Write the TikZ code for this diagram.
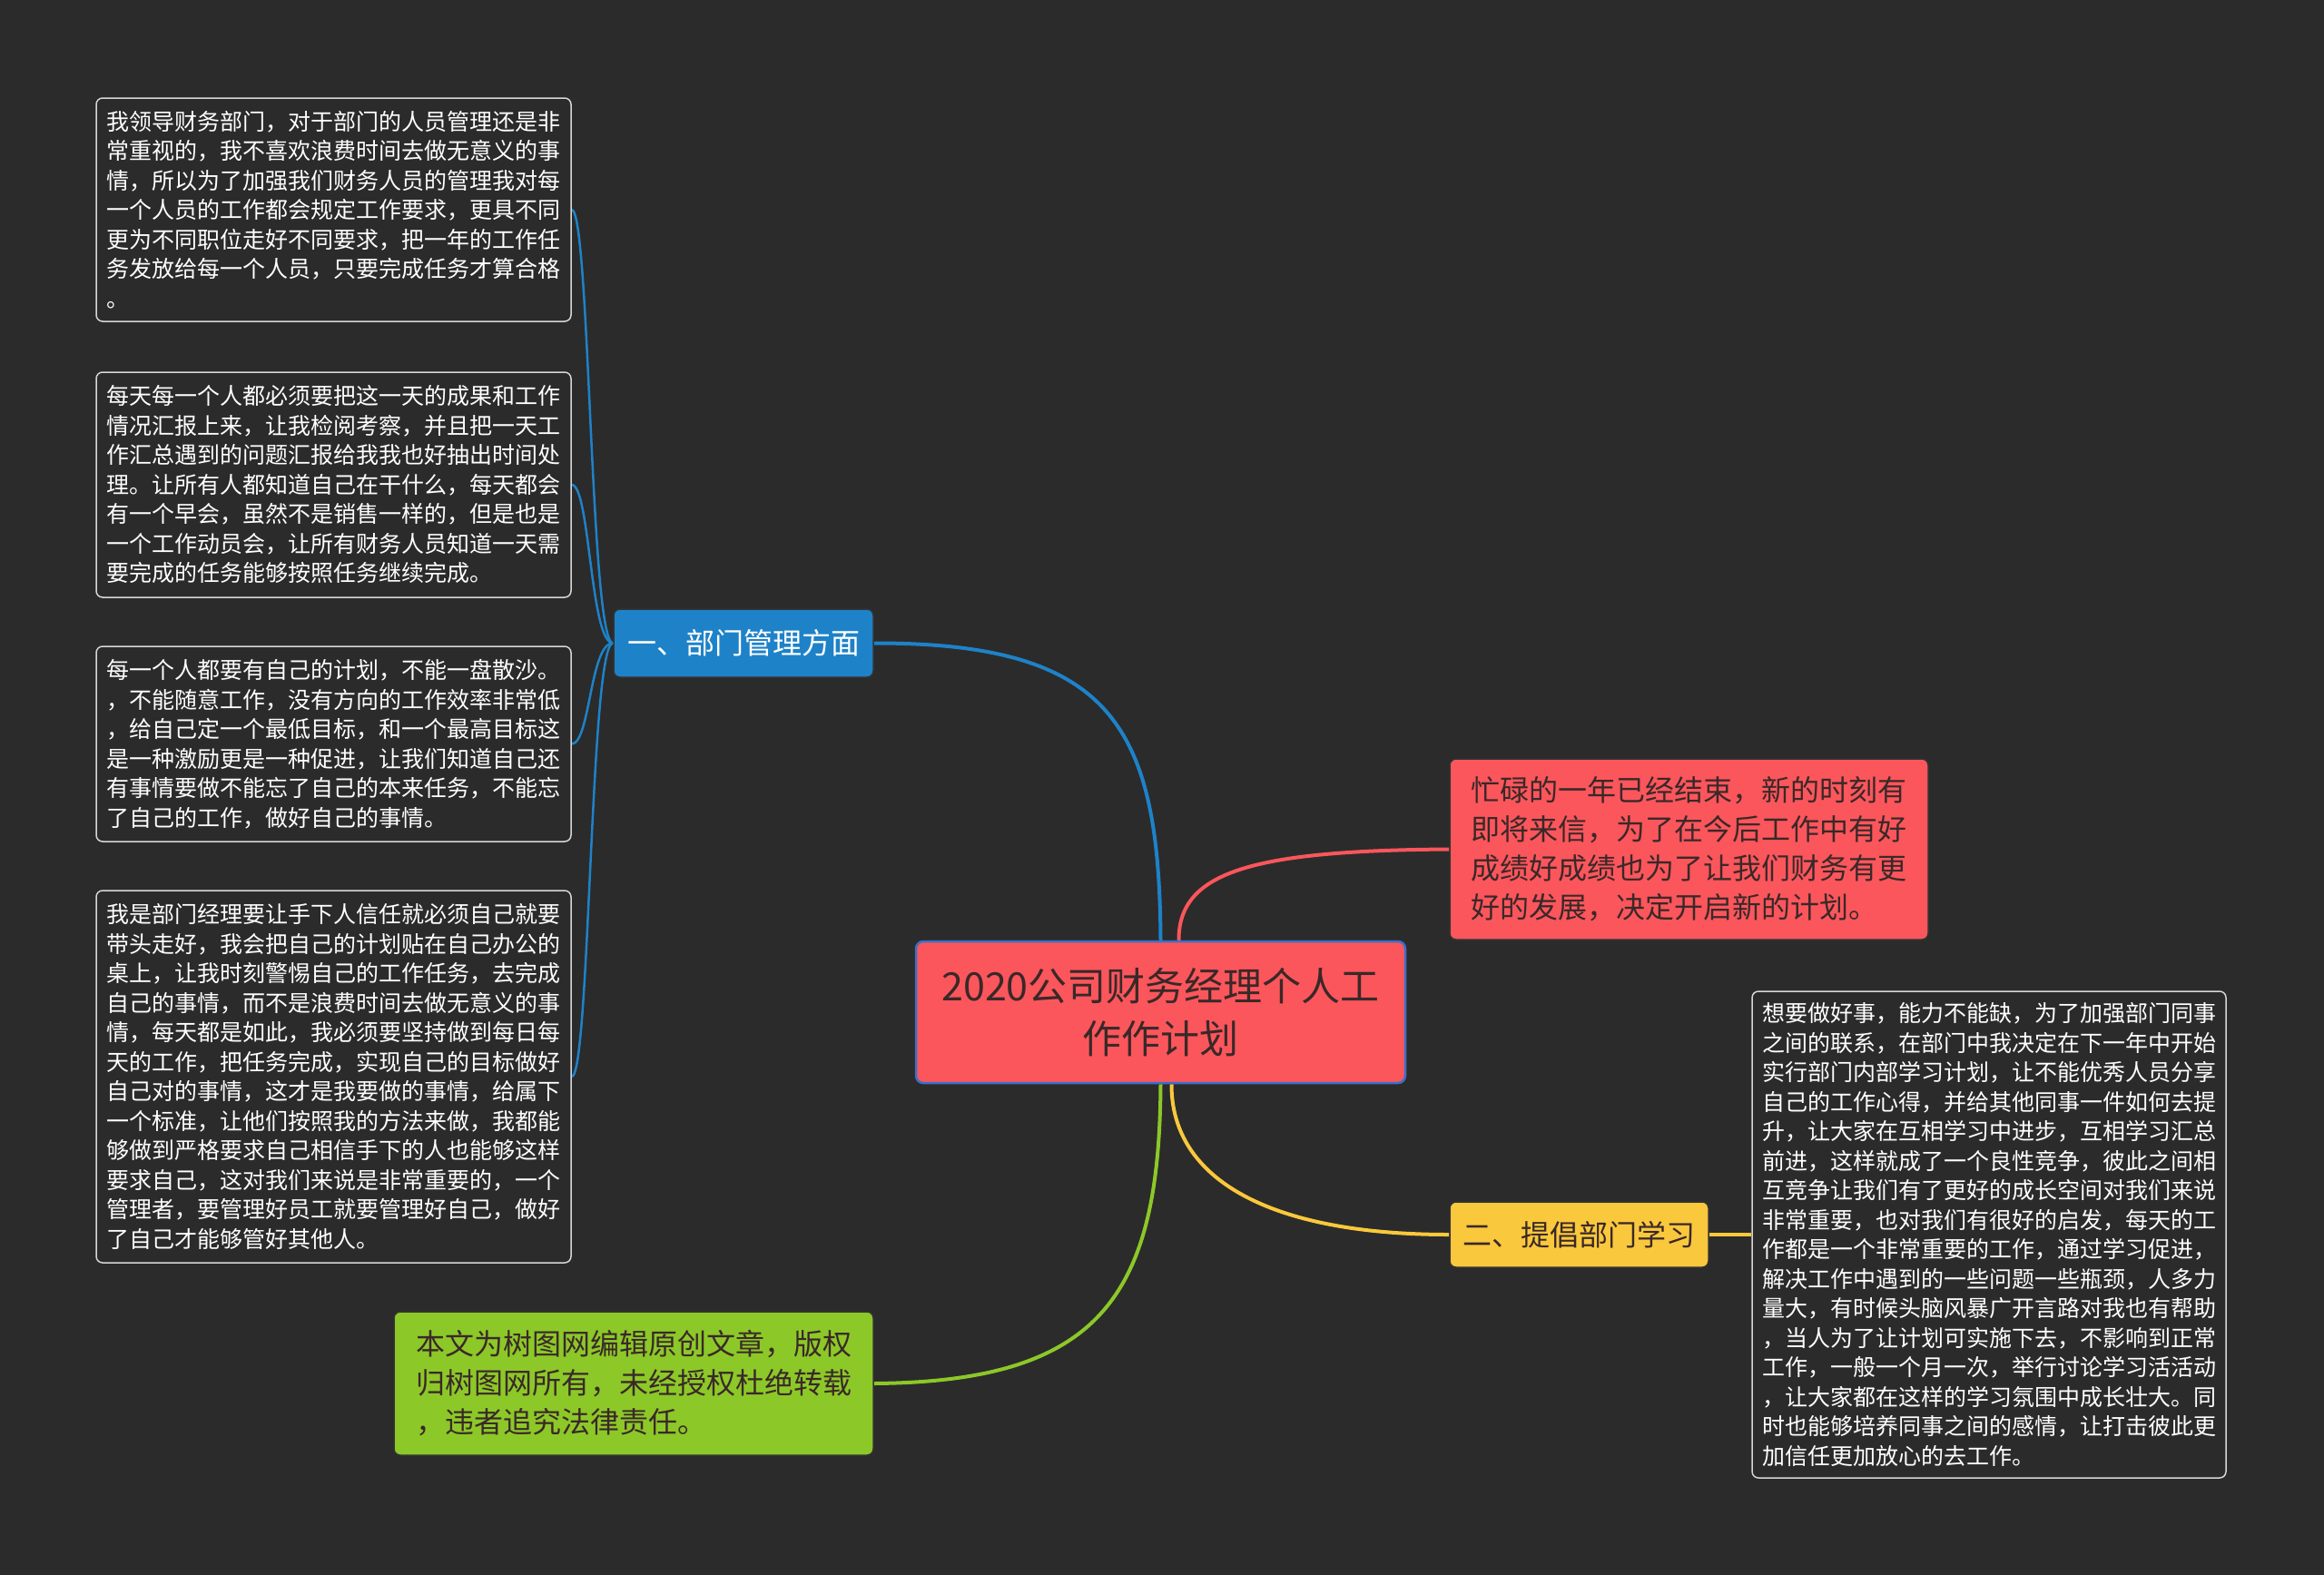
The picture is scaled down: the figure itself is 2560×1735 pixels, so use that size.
\documentclass[tikz,border=0pt]{standalone}
\usepackage{fontspec}
\setmainfont{Noto Sans CJK SC}
\usetikzlibrary{backgrounds}
\definecolor{bgdark}{RGB}{43,43,43}
\definecolor{leafline}{RGB}{215,215,215}
\definecolor{inkdark}{RGB}{58,40,40}
\definecolor{mapblue}{RGB}{30,130,200}
\definecolor{mapred}{RGB}{250,86,92}
\definecolor{mapyellow}{RGB}{250,200,60}
\definecolor{mapgreen}{RGB}{140,200,40}
\definecolor{rootline}{RGB}{60,110,200}

\begin{document}
\begin{tikzpicture}[x=1pt,y=1pt,yscale=-1,
  leaf/.style={draw=leafline,line width=1.5pt,fill=bgdark,rounded corners=7pt,text=white,
    font=\fontsize{25}{32.5}\selectfont,align=left,inner sep=0pt,minimum width=523pt},
  topic/.style={draw=black!80,line width=1.5pt,rounded corners=7pt,align=left,inner sep=0pt,
    font=\fontsize{32}{43}\selectfont},
  wire/.style={line width=4pt},
  twig/.style={line width=2.5pt,draw=mapblue}]
%uncomment if require: \path (0,1735); %set diagram left start at 0, and has height of 1735
\useasboundingbox (0,0) rectangle (2560,1735);
\begin{pgfonlayer}{background}
\fill[bgdark] (0,0) rectangle (2560,1735);
\end{pgfonlayer}

%Shape: Root
\node[draw=rootline,line width=2.5pt,fill=mapred,rounded corners=8pt,text=inkdark,align=center,
  inner sep=0pt,minimum width=539pt,minimum height=156pt,font=\fontsize{43}{58}\selectfont]
  (root) at (1278.5,1115) {2020公司财务经理个人工\\作作计划};

%Shape: Topics
\node[topic,fill=mapblue,text=white,minimum width=286pt,minimum height=75pt] (mgmt) at (819,708.5) {一、部门管理方面};
\node[topic,fill=mapred,text=inkdark,minimum width=527pt,minimum height=199pt] (intro) at (1860.5,935.5) {忙碌的一年已经结束，新的时刻有\\即将来信，为了在今后工作中有好\\成绩好成绩也为了让我们财务有更\\好的发展，决定开启新的计划。};
\node[topic,fill=mapyellow,text=inkdark,minimum width=285pt,minimum height=72pt] (study) at (1739.5,1360) {二、提倡部门学习};
\node[topic,fill=mapgreen,text=inkdark,minimum width=528pt,minimum height=158pt] (note) at (698,1524) {本文为树图网编辑原创文章，版权\\归树图网所有，未经授权杜绝转载\\，违者追究法律责任。};

% Text Node
\node[leaf,minimum height=246pt] (mgmtA) at (367.5,231) {我领导财务部门，对于部门的人员管理还是非\\常重视的，我不喜欢浪费时间去做无意义的事\\情，所以为了加强我们财务人员的管理我对每\\一个人员的工作都会规定工作要求，更具不同\\更为不同职位走好不同要求，把一年的工作任\\务发放给每一个人员，只要完成任务才算合格\\。};
% Text Node
\node[leaf,minimum height=248pt] (mgmtB) at (367.5,534) {每天每一个人都必须要把这一天的成果和工作\\情况汇报上来，让我检阅考察，并且把一天工\\作汇总遇到的问题汇报给我我也好抽出时间处\\理。让所有人都知道自己在干什么，每天都会\\有一个早会，虽然不是销售一样的，但是也是\\一个工作动员会，让所有财务人员知道一天需\\要完成的任务能够按照任务继续完成。};
% Text Node
\node[leaf,minimum height=215pt] (mgmtC) at (367.5,819.5) {每一个人都要有自己的计划，不能一盘散沙。\\，不能随意工作，没有方向的工作效率非常低\\，给自己定一个最低目标，和一个最高目标这\\是一种激励更是一种促进，让我们知道自己还\\有事情要做不能忘了自己的本来任务，不能忘\\了自己的工作，做好自己的事情。};
% Text Node
\node[leaf,minimum height=410pt] (mgmtD) at (367.5,1186) {我是部门经理要让手下人信任就必须自己就要\\带头走好，我会把自己的计划贴在自己办公的\\桌上，让我时刻警惕自己的工作任务，去完成\\自己的事情，而不是浪费时间去做无意义的事\\情，每天都是如此，我必须要坚持做到每日每\\天的工作，把任务完成，实现自己的目标做好\\自己对的事情，这才是我要做的事情，给属下\\一个标准，让他们按照我的方法来做，我都能\\够做到严格要求自己相信手下的人也能够这样\\要求自己，这对我们来说是非常重要的，一个\\管理者，要管理好员工就要管理好自己，做好\\了自己才能够管好其他人。};
% Text Node
\node[leaf,minimum width=522pt,minimum height=536pt] (studyA) at (2191,1360) {想要做好事，能力不能缺，为了加强部门同事\\之间的联系，在部门中我决定在下一年中开始\\实行部门内部学习计划，让不能优秀人员分享\\自己的工作心得，并给其他同事一件如何去提\\升，让大家在互相学习中进步，互相学习汇总\\前进，这样就成了一个良性竞争，彼此之间相\\互竞争让我们有了更好的成长空间对我们来说\\非常重要，也对我们有很好的启发，每天的工\\作都是一个非常重要的工作，通过学习促进，\\解决工作中遇到的一些问题一些瓶颈，人多力\\量大，有时候头脑风暴广开言路对我也有帮助\\，当人为了让计划可实施下去，不影响到正常\\工作，一般一个月一次，举行讨论学习活活动\\，让大家都在这样的学习氛围中成长壮大。同\\时也能够培养同事之间的感情，让打击彼此更\\加信任更加放心的去工作。};

%Curve Lines
\begin{pgfonlayer}{background}
\draw[wire,mapblue] (mgmt.east) .. controls (1225,708) and (1277,800) .. (root.north);
\draw[wire,mapred] ([xshift=20pt]root.north) .. controls (1298,960) and (1380,937) .. (intro.west);
\draw[wire,mapyellow] ([xshift=12pt]root.south) .. controls (1290,1300) and (1400,1360) .. (study.west);
\draw[wire,mapgreen] (root.south) .. controls (1277,1430) and (1210,1522) .. (note.east);
\draw[twig] (mgmt.west) .. controls (650,708) and (650,231) .. (mgmtA.east);
\draw[twig] (mgmt.west) .. controls (650,708) and (650,534) .. (mgmtB.east);
\draw[twig] (mgmt.west) .. controls (650,708) and (650,819.5) .. (mgmtC.east);
\draw[twig] (mgmt.west) .. controls (650,708) and (650,1186) .. (mgmtD.east);
\draw[wire,mapyellow] (study.east) -- (studyA.west);
\end{pgfonlayer}

\end{tikzpicture}
\end{document}
